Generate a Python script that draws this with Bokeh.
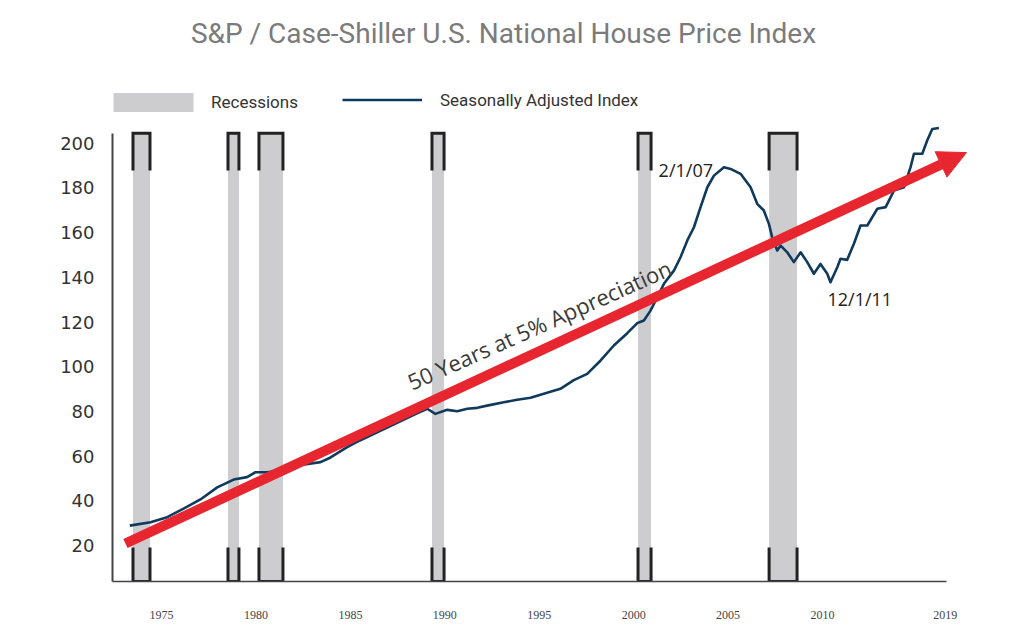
from bokeh.plotting import figure
from bokeh.models import (Range1d, FixedTicker, Label, Arrow, NormalHead, Legend, LegendItem)
from bokeh.embed import file_html
from bokeh.resources import INLINE

# ---- data ----
years = [1973.32, 1974.42, 1975.3, 1976.17, 1977.06, 1977.95, 1978.82, 1979.53, 1979.98,
         1980.6, 1981.3, 1982.19, 1983.42, 1983.95, 1984.83, 1985.5, 1986.5, 1987.5,
         1988.5, 1989.07, 1989.5, 1990.13, 1990.66, 1991.19, 1991.72, 1992.24, 1993.12,
         1993.83, 1994.54, 1995.24, 1996.12, 1996.83, 1997.54, 1998.25, 1998.95, 1999.66,
         2000.19, 2000.54, 2000.89, 2001.25, 2001.6, 2002.13, 2002.48, 2002.84, 2003.19,
         2003.54, 2003.9, 2004.25, 2004.78, 2005.13, 2005.66, 2006.19, 2006.54, 2006.89,
         2007.16, 2007.33, 2007.6, 2007.78, 2008.13, 2008.48, 2008.84, 2009.19, 2009.54,
         2009.89, 2010.25, 2010.42, 2010.78, 2010.95, 2011.3, 2011.66, 2012.01, 2012.37,
         2012.9, 2013.34, 2013.78, 2014.31, 2014.66, 2014.84, 2015.28, 2015.54, 2015.81,
         2016.16]
index = [28.9, 30.4, 32.7, 36.5, 40.6, 46.0, 49.5, 50.6, 52.8,
         52.8, 53.6, 55.8, 57.3, 59.4, 64.0, 67.0, 71.0, 75.0,
         79.0, 81.2, 78.9, 80.7, 80.1, 81.2, 81.6, 82.6, 84.1,
         85.2, 86.1, 87.9, 90.1, 94.0, 96.8, 102.8, 109.5, 115.0,
         119.5, 120.7, 125.1, 131.1, 137.1, 143.0, 149.0, 156.5, 162.4,
         171.4, 180.3, 185.5, 189.3, 188.5, 186.3, 180.3, 172.9, 169.9,
         163.9, 158.0, 152.0, 154.2, 151.2, 146.8, 151.2, 146.8, 141.6,
         146.0, 141.6, 137.8, 144.5, 148.3, 147.8, 155.0, 163.2, 163.2,
         170.7, 171.4, 178.8, 180.3, 189.3, 195.3, 195.3, 201.2, 206.4,
         206.8]

rec_start = [1973.49, 1978.52, 1980.16, 1989.32, 2000.23, 2007.17]
rec_end = [1974.39, 1979.10, 1981.43, 1989.96, 2000.92, 2008.65]

y_ticks = [20, 40, 60, 80, 100, 120, 140, 160, 180, 200]
x_ticks = [1975, 1980, 1985, 1990, 1995, 2000, 2005, 2010, 2016.5]
x_tick_labels = ["1975", "1980", "1985", "1990", "1995", "2000", "2005", "2010", "2019"]

trend_start = (1973.09, 20.9)
trend_end = (2017.62, 195.8)

# ---- figure ----
p = figure(width=1030, height=639, output_backend="svg", toolbar_location=None,
           x_range=Range1d(1972.405, 2021.01), y_range=Range1d(3.9, 263.86),
           min_border_left=112, min_border_bottom=58, min_border_top=0, min_border_right=0)
p.outline_line_color = None
p.grid.visible = False
p.background_fill_color = "white"
p.border_fill_color = "white"

Y_LO, Y_HI = 3.9, 204.5
BR_TOP_LEG, BR_BOT_LEG = 187.8, 19.1

bars = p.quad(left=rec_start, right=rec_end, bottom=Y_LO, top=Y_HI,
              fill_color="#cdcdd0", line_color=None)

xs, ys = [], []
for a, b in zip(rec_start, rec_end):
    xs.append([a, a, b, b]); ys.append([BR_TOP_LEG, Y_HI, Y_HI, BR_TOP_LEG])
    xs.append([a, a, b, b]); ys.append([BR_BOT_LEG, Y_LO, Y_LO, BR_BOT_LEG])
p.multi_line(xs, ys, line_color="#222222", line_width=3, line_join="miter")

line = p.line(years, index, line_color="#0f3a5c", line_width=2.6, line_join="round")

p.add_layout(Arrow(x_start=trend_start[0], y_start=trend_start[1],
                   x_end=trend_end[0], y_end=trend_end[1],
                   line_color="#e7262f", line_width=10, line_cap="butt",
                   end=NormalHead(size=28, fill_color="#e7262f", line_color="#e7262f")))

# axes
ya = p.yaxis[0]
ya.ticker = FixedTicker(ticks=y_ticks)
ya.bounds = (Y_LO, Y_HI)
ya.major_tick_line_color = None
ya.minor_tick_line_color = None
ya.major_label_standoff = 12
ya.major_label_text_font = "DejaVu Sans"
ya.major_label_text_font_size = "18px"
ya.major_label_text_color = "#333333"
ya.axis_line_color = "#444444"
ya.axis_line_width = 2

xa = p.xaxis[0]
xa.ticker = FixedTicker(ticks=x_ticks)
xa.major_label_overrides = {t: lab for t, lab in zip(x_ticks, x_tick_labels)}
xa.bounds = (1972.405, 2016.55)
xa.major_tick_line_color = None
xa.minor_tick_line_color = None
xa.major_label_standoff = 23
xa.major_label_text_font = "Liberation Serif"
xa.major_label_text_font_size = "12px"
xa.major_label_text_color = "#444444"
xa.axis_line_color = "#444444"
xa.axis_line_width = 1.5

# title
p.add_layout(Label(x=391, y=548, x_units="screen", y_units="screen",
                   text="S&P / Case-Shiller U.S. National House Price Index",
                   text_align="center", text_baseline="middle",
                   text_font="Roboto", text_font_size="28px", text_color="#7b7b7b"))

# legends
common = dict(orientation="horizontal", padding=0, margin=0, border_line_color=None,
              background_fill_alpha=0, label_text_font="Roboto",
              label_text_font_size="17px", label_text_color="#333333")
legend1 = Legend(items=[LegendItem(label="Recessions", renderers=[bars])],
                 location=(-9, 467.5), glyph_width=100, glyph_height=24,
                 label_height=24, label_standoff=8, **common)
legend2 = Legend(items=[LegendItem(label="Seasonally Adjusted Index", renderers=[line])],
                 location=(230, 471.5), glyph_width=80, glyph_height=19,
                 label_height=19, label_standoff=18, **common)
p.add_layout(legend1)
p.add_layout(legend2)

# annotations
p.add_layout(Label(x=2001.32, y=187.8, text="2/1/07", text_align="left",
                   text_baseline="middle", text_font="Open Sans",
                   text_font_size="18px", text_color="#222222"))
p.add_layout(Label(x=2010.26, y=130.5, text="12/1/11", text_align="left",
                   text_baseline="middle", text_font="Open Sans",
                   text_font_size="18px", text_color="#222222"))
p.add_layout(Label(x=1995.0, y=118.9, text="50 Years at 5% Appreciation",
                   angle=0.419, text_align="center", text_baseline="middle",
                   text_font="Open Sans", text_font_size="22px",
                   text_color="#3a3a3a"))

open("out.html", "w").write(file_html(p, INLINE))
